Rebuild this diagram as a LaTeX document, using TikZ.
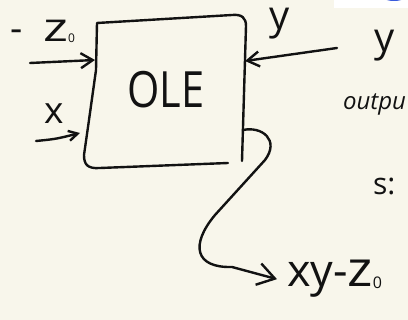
\documentclass[tikz,border=0pt]{standalone}
\usepackage{fontspec}
\setmainfont{Open Sans}
\usetikzlibrary{arrows.meta}
\definecolor{paper}{HTML}{F8F6EB}
\definecolor{ink}{HTML}{121212}
\definecolor{uiblue}{HTML}{3A5BDC}
\begin{document}
\begin{tikzpicture}[x=1pt,y=-1pt,
  stroke/.style={draw=ink,line width=2.4pt,line cap=round,line join=round},
  inhead/.style={-{Straight Barb[length=12pt,width=15pt]}},
  smallhead/.style={-{Straight Barb[length=9pt,width=10pt]}},
  bighead/.style={-{Straight Barb[length=17pt,width=22pt]}},
  lbl/.style={text=ink,inner sep=0pt,outer sep=0pt},
  hand/.style={lbl,font=\fontsize{#1}{#1}\selectfont},
]
% paper and frame
\useasboundingbox (0,0) rectangle (408,320);
\clip (0,0) rectangle (408,320);
\fill[paper] (0,0) rectangle (408,320);
\fill[white] (334,-1) rectangle (409,8);
\fill[uiblue] (394,-7) ellipse [x radius=15, y radius=8];

% the OLE box
\draw[stroke] (228,163) -- (100,168)
  .. controls (87,169) and (84,164) .. (84,155)
  -- (89,120) -- (96,70) -- (97,23) -- (232,15)
  .. controls (242,14) and (246,18) .. (246,26) -- (242,161);
\node[hand=50, xscale=0.83] (ole) at (166,90) {OLE};

% ports on the box
\coordinate (zport) at (95,60);
\coordinate (xport) at (80,133);
\coordinate (yport) at (245,61);
\coordinate (outport) at (243,130);

% free ends of the input wires
\coordinate (zsrc) at (30,63);
\coordinate (xsrc) at (36,141);
\coordinate (ysrc) at (337,48);

% labels
\node[hand=38, anchor=base west] (zlbl) at (11,42) {-\hspace{20pt}\scalebox{1.4}[1.05]{z}\raisebox{-1pt}{\fontsize{12}{12}\selectfont 0}};
\node[hand=37] (xlbl) at (54,114) {x};
\node[hand=40, anchor=base] (ylbl) at (280,30) {y};
\node[hand=40, anchor=base] (yout) at (385,52) {y};
\node[hand=24, anchor=base west, font=\fontsize{24}{24}\selectfont\itshape] (outtxt) at (343,110) {outpu};
\node[hand=30, anchor=base west] (stxt) at (373,195) {s:};
\node[hand=45, anchor=base west] (res) at (287,287) {xy-\scalebox{1.2}[1.1]{z}\raisebox{-2pt}{\fontsize{16}{16}\selectfont 0}};

% wires
\draw[stroke,inhead] (zsrc) -- (zport);
\draw[stroke,smallhead] (xsrc) .. controls (56,139) .. (xport);
\draw[stroke,inhead] (ysrc) -- (yport);
\draw[stroke,bighead] (outport) .. controls (262,126) and (280,140) .. (265,160)
  -- (215,215) .. controls (190,245) and (195,268) .. (232,267) -- ([xshift=-10pt]res.west);
\end{tikzpicture}
\end{document}
